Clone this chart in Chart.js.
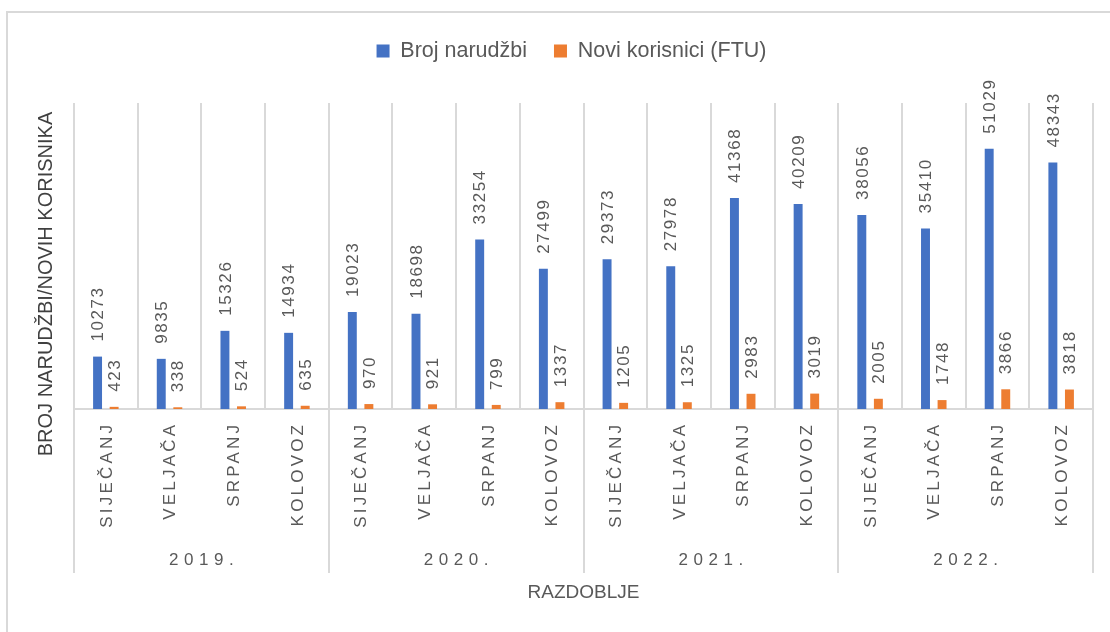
<!DOCTYPE html>
<html>
<head>
<meta charset="utf-8">
<script src="https://cdn.jsdelivr.net/npm/chart.js@4.4.0/dist/chart.umd.min.js"></script>
<style>
html,body{margin:0;padding:0;background:#fff;}
#wrap{width:1110px;height:632px;position:relative;}
</style>
</head>
<body>
<div id="wrap"><canvas id="c" width="1110" height="632"></canvas></div>
<script>
const months = ["SIJEČANJ","VELJAČA","SRPANJ","KOLOVOZ","SIJEČANJ","VELJAČA","SRPANJ","KOLOVOZ","SIJEČANJ","VELJAČA","SRPANJ","KOLOVOZ","SIJEČANJ","VELJAČA","SRPANJ","KOLOVOZ"];
const years = ["2019.","2020.","2021.","2022."];
const orders = [10273,9835,15326,14934,19023,18698,33254,27499,29373,27978,41368,40209,38056,35410,51029,48343];
const newUsers = [423,338,524,635,970,921,799,1337,1205,1325,2983,3019,2005,1748,3866,3818];
const seriesNames = ["Broj narudžbi","Novi korisnici (FTU)"];
const yTitle = "BROJ NARUDŽBI/NOVIH KORISNIKA";
const xTitle = "RAZDOBLJE";

const GRID = "#d9d9d9";
const TXT = "#595959";
const FONT = "'Liberation Sans', Arial, sans-serif";

const overlay = {
  id: "overlay",
  beforeDraw(chart) {
    const ctx = chart.ctx;
    ctx.save();
    ctx.fillStyle = "#fff";
    ctx.fillRect(0, 0, chart.width, chart.height);
    ctx.strokeStyle = GRID;
    ctx.lineWidth = 2;
    ctx.strokeRect(7, 12, 1200, 700);
    ctx.restore();
  },
  afterDatasetsDraw(chart) {
    const ctx = chart.ctx;
    const xs = chart.scales.x;
    const ca = chart.chartArea;
    const w = xs.getPixelForValue(1) - xs.getPixelForValue(0);
    ctx.save();
    // data labels
    ctx.font = "17px " + FONT;
    ctx.fillStyle = TXT;
    ctx.letterSpacing = "1.6px";
    ctx.textAlign = "left";
    ctx.textBaseline = "middle";
    chart.data.datasets.forEach((ds, di) => {
      const meta = chart.getDatasetMeta(di);
      meta.data.forEach((el, i) => {
        ctx.save();
        ctx.translate(el.x + 1, el.y - 15);
        ctx.rotate(-Math.PI / 2);
        ctx.fillText(String(ds.data[i]), 0, 0);
        ctx.restore();
      });
    });
    // month labels
    ctx.font = "17px " + FONT;
    ctx.letterSpacing = "3.2px";
    ctx.textAlign = "right";
    months.forEach((m, i) => {
      const cx = xs.getPixelForValue(i);
      ctx.save();
      ctx.translate(cx + 1, ca.bottom + 12.8);
      ctx.rotate(-Math.PI / 2);
      ctx.fillText(m, 0, 0);
      ctx.restore();
    });
    // year labels
    ctx.font = "17px " + FONT;
    ctx.letterSpacing = "5.5px";
    ctx.textAlign = "center";
    years.forEach((y, g) => {
      const cx = (xs.getPixelForValue(g * 4) + xs.getPixelForValue(g * 4 + 3)) / 2;
      ctx.fillText(y, cx + 2.75, ca.bottom + 151);
    });
    // year boundary extensions
    ctx.strokeStyle = GRID;
    ctx.lineWidth = 2;
    for (let g = 0; g <= years.length; g++) {
      const bx = Math.round(xs.getPixelForValue(g * 4) - w / 2);
      ctx.beginPath();
      ctx.moveTo(bx, ca.bottom);
      ctx.lineTo(bx, ca.bottom + 164);
      ctx.stroke();
    }
    // axis titles
    ctx.letterSpacing = "0px";
    ctx.font = "19px " + FONT;
    ctx.fillStyle = TXT;
    ctx.textAlign = "center";
    ctx.fillText(xTitle, (ca.left + ca.right) / 2, ca.bottom + 184);
    ctx.save();
    ctx.translate(46, 284);
    ctx.rotate(-Math.PI / 2);
    ctx.fillStyle = "#404040";
    ctx.font = "20px " + FONT;
    ctx.fillText(yTitle, 0, 0);
    ctx.restore();
    ctx.restore();
  }
};

new Chart(document.getElementById("c"), {
  type: "bar",
  data: {
    labels: months,
    datasets: [
      { label: seriesNames[0], data: orders, backgroundColor: "#4472C4", categoryPercentage: 0.52, barPercentage: 0.54 },
      { label: seriesNames[1], data: newUsers, backgroundColor: "#ED7D31", categoryPercentage: 0.52, barPercentage: 0.54 }
    ]
  },
  options: {
    responsive: false,
    animation: false,
    devicePixelRatio: 1,
    layout: { padding: { left: 50, right: 17, top: 13.25, bottom: 0 } },
    plugins: {
      legend: {
        position: "top",
        labels: { boxWidth: 13, boxHeight: 13, padding: 27, color: TXT, font: { family: FONT, size: 21.5 } }
      },
      tooltip: { enabled: false }
    },
    scales: {
      x: {
        position: "bottom",
        grid: { display: true, offset: true, color: GRID, lineWidth: 2, tickLength: 0, drawTicks: false },
        border: { display: true, color: GRID, width: 2 },
        ticks: { display: false },
        afterFit(s) { s.height = 223; }
      },
      xTop: {
        type: "category",
        position: "top",
        display: true,
        grid: { display: false, drawTicks: false },
        border: { display: false },
        ticks: { display: false },
        afterFit(s) { s.height = 31.25; }
      },
      y: {
        min: 0,
        max: 60000,
        display: true,
        grid: { display: false, drawTicks: false },
        border: { display: false },
        ticks: { display: false },
        afterFit(s) { s.width = 24; }
      }
    }
  },
  plugins: [overlay]
});
</script>
</body>
</html>
